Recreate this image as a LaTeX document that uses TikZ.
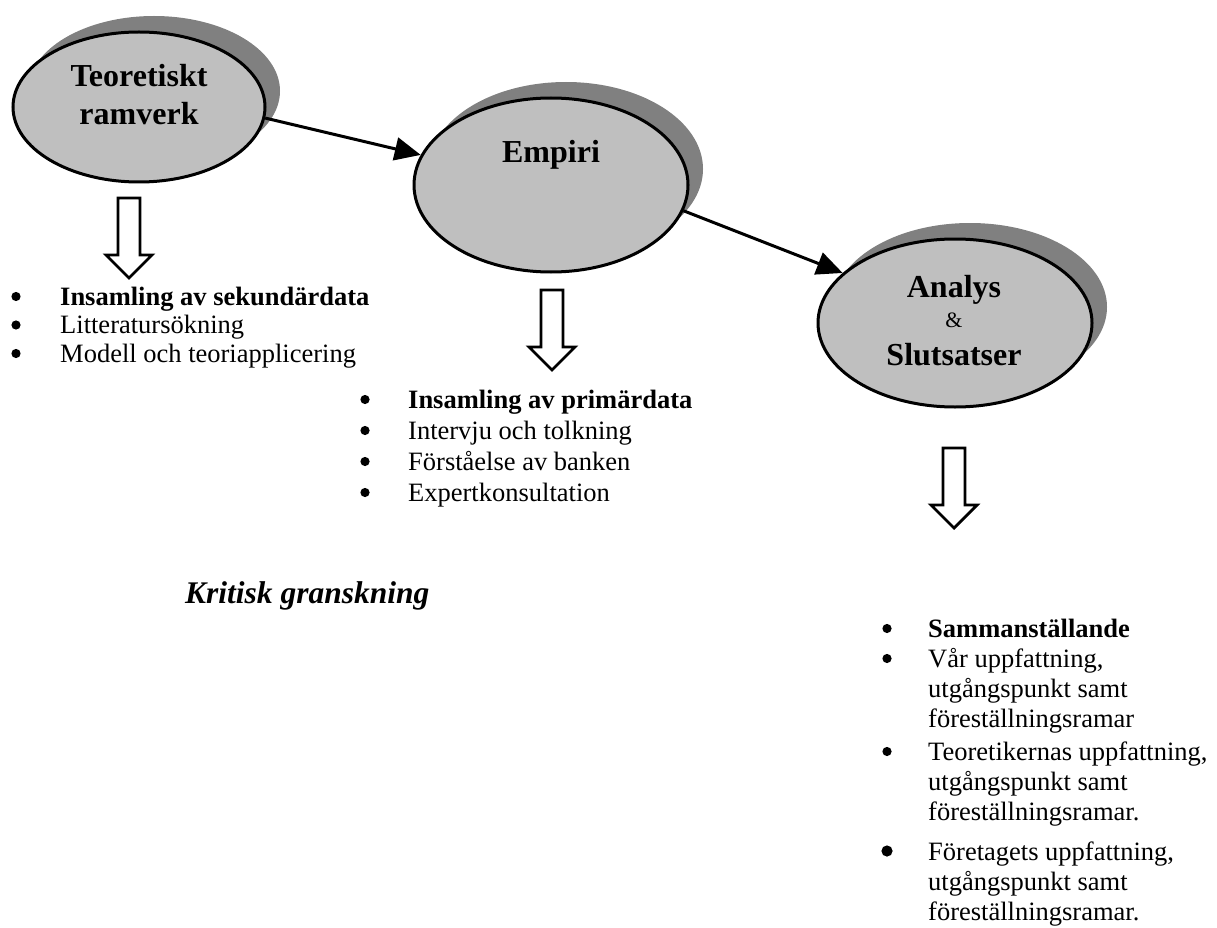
\documentclass[tikz,border=0pt]{standalone}
\usepackage{fontspec}
\setmainfont{Liberation Serif}
\usetikzlibrary{shapes.geometric,shadows,arrows.meta}
\tikzset{
  bubble/.style={ellipse, draw=black, line width=3pt, fill=black!25, inner sep=0pt,
    drop shadow={shadow xshift=15pt, shadow yshift=16pt, fill=black!50, draw=none, opacity=1}},
  bubbletext/.style={anchor=base, inner sep=0pt, font=\bfseries\fontsize{32}{38}\selectfont},
  link/.style={line width=3pt, -{Triangle[length=26pt,width=23pt]}},
  hollow/.style={draw=black, line width=2.8pt, fill=white, line join=miter},
  listtext/.style={anchor=base west, inner sep=0pt},
  dot/.style={fill=black},
}

\begin{document}
\begin{tikzpicture}[x=1pt,y=-1pt]
\useasboundingbox (0,0) rectangle (1217,928);
% the three stages
\node[bubble, minimum width=252pt, minimum height=150pt] (teo) at (139,107) {};
\node[bubble, minimum width=274pt, minimum height=174pt] (emp) at (551,185) {};
\node[bubble, minimum width=274pt, minimum height=168pt] (ana) at (955,323) {};
\node[bubbletext] (teoA) at (139,87) {Teoretiskt};
\node[bubbletext] (teoB) at (139,125) {ramverk};
\node[bubbletext] (empA) at (551,163) {Empiri};
\node[bubbletext] (anaA) at (954,297) {Analys};
\node[bubbletext, font=\fontsize{22}{26}\selectfont] (anaB) at (954,327) {\&};
\node[bubbletext] (anaC) at (954,365) {Slutsatser};
\draw[link] (teo.-5) -- (emp.167);
\draw[link] (emp.-11) -- (ana.156);
% hollow down arrows
\foreach \x/\y in {129/198, 552/290, 954/448}
  \draw[hollow] (\x-11,\y) -- (\x+11,\y) -- (\x+11,\y+57) -- (\x+23,\y+57)
    -- (\x,\y+80) -- (\x-23,\y+57) -- (\x-11,\y+57) -- cycle;
% lists
\node[listtext, font=\fontsize{26.5}{28.5}\selectfont] (secondary) at (60,305)
  {\begin{tabular}[t]{@{}l@{}}
  \textbf{Insamling av sekundärdata}\\
  Litteratursökning\\
  Modell och teoriapplicering
  \end{tabular}};
\node[listtext, font=\fontsize{26.5}{31}\selectfont] (primary) at (408,408)
  {\begin{tabular}[t]{@{}l@{}}
  \textbf{Insamling av primärdata}\\
  Intervju och tolkning\\
  Förståelse av banken\\
  Expertkonsultation
  \end{tabular}};
\node[listtext, font=\fontsize{26.5}{30}\selectfont] (summary) at (928,637)
  {\begin{tabular}[t]{@{}l@{}}
  \textbf{Sammanställande}\\
  Vår uppfattning,\\
  utgångspunkt samt\\
  föreställningsramar\\[3pt]
  Teoretikernas uppfattning,\\
  utgångspunkt samt\\
  föreställningsramar.\\[10pt]
  Företagets uppfattning,\\
  utgångspunkt samt\\
  föreställningsramar.
  \end{tabular}};
% bullets
\foreach \y in {305, 333.5, 362}
  \fill[dot] (16,\y-8.5) circle (4.6);
\foreach \y in {408, 439, 470, 501}
  \fill[dot] (365,\y-8.5) circle (4.6);
\foreach \y in {637, 667, 760}
  \fill[dot] (887,\y-8.5) circle (4.6);
\fill[dot] (887,851) circle (5.6);
\node[listtext, font=\bfseries\itshape\fontsize{31.5}{36}\selectfont] (review) at (185,603) {Kritisk granskning};
\end{tikzpicture}
\end{document}
